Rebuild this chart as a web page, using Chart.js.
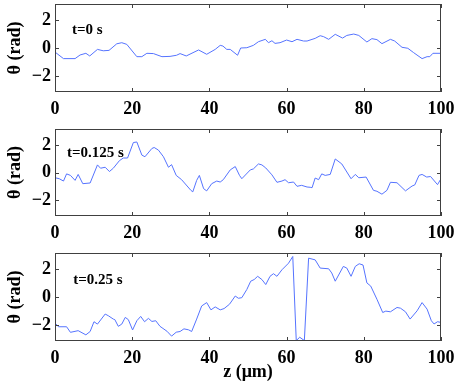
<!DOCTYPE html>
<html>
<head>
<meta charset="utf-8">
<script src="https://cdn.jsdelivr.net/npm/chart.js@4.4.0/dist/chart.umd.min.js"></script>
<style>
body { margin: 0; background: #fff; }
#wrap { position: relative; width: 458px; height: 387px; }
.panel { position: absolute; left: 0; width: 458px; }
</style>
</head>
<body>
<div id="wrap">
  <div class="panel" style="top:0;height:120px"><canvas id="c0"></canvas></div>
  <div class="panel" style="top:125px;height:119px"><canvas id="c1"></canvas></div>
  <div class="panel" style="top:249px;height:138px"><canvas id="c2"></canvas></div>
</div>
<script>
// tick labels
const xTicks = [0, 20, 40, 60, 80, 100];
const yTicks = [-2, 0, 2];

// t = 0 s
const z0 = [0,2.2,5.2,6.5,8,9,11,12.5,14,16,17.3,18.6,21.2,22.5,23.8,25.5,27.7,29.8,31.5,32.4,
    34,37.2,39.3,41.5,42.8,43.5,44.5,45.4,47.3,48.1,49.7,51.4,52.7,54.5,55.3,56.2,57,58.3,60,61.4,
    62.7,64.4,65.3,67.4,68.7,69.6,70.9,72.6,74.5,75.6,77.4,78.7,80.8,82.1,83.4,84.7,86.9,88,89.9,91.4,
    92.9,95.1,96.4,97.1,97.9,100];
const theta0 = [-0.29,-0.76,-0.76,-0.5,-0.38,-0.57,-0.1,-0.2,-0.17,0.3,0.38,0.26,-0.62,-0.62,-0.38,-0.4,-0.62,-0.6,-0.52,-0.4,
    -0.57,-0.14,-0.45,-0.1,0.19,0.14,-0.1,-0.1,-0.52,0,0.02,0.19,0.45,0.62,0.38,0.52,0.33,0.38,0.57,0.45,
    0.62,0.5,0.5,0.69,0.88,0.81,0.62,0.98,0.71,0.9,1.0,0.9,0.43,0.67,0.6,0.31,0.62,0.5,0.05,-0.02,
    -0.33,-0.76,-0.62,-0.62,-0.38,-0.38];

// t = 0.125 s
const z1 = [0,1.1,2.2,3,4,5.2,6,7.2,9.1,11,11.8,13,14.1,15.1,16.7,17.7,18.8,20.3,21.2,22.5,
    23.3,25.1,25.7,26.8,28.1,29.4,30.2,31.4,32.8,35.2,35.7,36.7,37.4,38.5,39.3,40.6,41.9,42.8,43.6,45.4,
    46.7,47.8,48.4,50.6,51.4,52.7,53.6,54.6,56.2,57.5,58.8,59.6,60.5,61.8,62.7,63.9,65.3,66.1,66.6,67.4,
    68.3,69.1,70,71.3,72.6,74.3,76.7,77.8,78.7,80.6,82.5,83.4,84.7,86,86.9,88.6,90.8,92.5,93.2,94.3,
    95.1,96.3,97.3,99.1,100];
const theta1 = [-0.38,-0.45,-0.62,-0.1,-0.21,-0.57,-0.14,-0.81,-0.76,0.55,0.31,0.38,0.07,0.31,0.86,1.05,1.05,2.17,2.21,1.26,
    1.14,1.74,1.81,1.62,1.14,0.38,0.57,-0.21,-0.52,-1.29,-1.4,-0.57,-0.21,-1.17,-1.33,-0.81,-0.62,-0.69,-0.52,0.19,
    0.43,-0.21,-0.45,0.19,0.26,0.62,0.55,0.33,-0.17,-0.71,-0.62,-0.52,-0.74,-0.69,-1.0,-0.93,-1.05,-1.07,-1.1,-0.4,
    -0.52,-0.1,-0.21,-0.14,0.98,0.62,-0.45,-0.14,-0.38,-0.33,-1.29,-1.36,-1.57,-1.29,-0.71,-0.74,-1.33,-0.98,-0.9,-0.21,
    -0.14,-0.33,-0.29,-0.88,-0.45];

// t = 0.25 s
const z2 = [0,0.9,3,4,6,8,9.1,10.1,11,13,13.8,15.1,15.5,16.4,17.3,18.2,19,20.1,21.2,22.2,
    23.2,24.2,25.1,26.1,27.2,29,30.2,31.4,32.4,33.4,34.6,35.4,36.7,38,39.3,40.4,41.5,42.8,43.8,45.2,
    46.7,47.5,48.4,49.7,50.7,51.6,52.5,53.6,54.6,55.7,56.6,57.5,58.8,60.5,61.6,62.5,63.4,64.6,65.7,67.4,
    68.7,70.9,71.7,72.6,74.7,75.6,76.7,77.8,78.8,79.8,80.8,81.8,83.4,84.9,85.7,86.9,88.6,89.5,90.8,92,
    93.8,95.1,96.4,97.5,98.2,99.1,100];
const theta2 = [-1.87,-2.13,-2.13,-2.53,-2.41,-2.71,-2.47,-1.77,-1.94,-1.22,-1.34,-1.58,-1.62,-2.1,-1.94,-1.46,-1.62,-2.36,-1.7,-1.39,
    -1.77,-1.53,-1.75,-1.7,-2.1,-2.45,-2.8,-2.52,-2.47,-2.28,-2.35,-2.47,-1.58,-0.64,-0.4,-0.92,-0.71,-0.92,-0.83,-0.52,
    0.07,-0.09,-0.05,0.54,1.13,1.25,1.48,1.25,0.89,1.48,1.67,1.48,1.95,2.42,2.9,-3.12,-2.88,-3.12,2.78,2.66,
    2.07,2.02,1.72,1.13,2.19,2.07,1.48,2.19,2.38,2.29,1.01,0.78,-0.16,-1.11,-1.01,-1.06,-0.75,-0.8,-1.06,-1.58,
    -0.99,-0.4,-0.87,-1.7,-1.93,-1.77,-1.82];

const serif = '"Liberation Serif", "Times New Roman", serif';
const lineColor = 'rgb(85, 115, 255)';

function minusLabel(v) {
    return v < 0 ? '\u2212' + Math.abs(v) : String(v);
}

// box + inward ticks on all four sides, and the time label
const frame = {
    id: 'frame',
    afterDraw(chart) {
        const ctx = chart.ctx;
        const a = chart.chartArea;
        const x = chart.scales.x;
        const y = chart.scales.y;
        ctx.save();
        ctx.strokeStyle = '#404040';
        ctx.lineWidth = 1;
        ctx.strokeRect(Math.round(a.left) + 0.5, Math.round(a.top) + 0.5,
            Math.round(a.width) - 1, Math.round(a.height) - 1);
        ctx.beginPath();
        x.ticks.forEach(t => {
            let px = Math.round(x.getPixelForValue(t.value)) + 0.5;
            ctx.moveTo(px, a.bottom); ctx.lineTo(px, a.bottom - 4);
            ctx.moveTo(px, a.top); ctx.lineTo(px, a.top + 4);
        });
        y.ticks.forEach(t => {
            let py = Math.round(y.getPixelForValue(t.value)) + 0.5;
            ctx.moveTo(a.left, py); ctx.lineTo(a.left + 4, py);
            ctx.moveTo(a.right, py); ctx.lineTo(a.right - 4, py);
        });
        ctx.stroke();
        let opts = chart.options.plugins.frame;
        ctx.font = 'bold 15px ' + serif;
        ctx.fillStyle = '#000';
        ctx.textBaseline = 'middle';
        ctx.fillText(opts.label, x.getPixelForValue(opts.at[0]), y.getPixelForValue(opts.at[1]));
        ctx.restore();
    }
};

function makePanel(id, zs, thetas, label, at, xAxisHeight, showTitle) {
    let ctx = document.getElementById(id).getContext('2d');
    return new Chart(ctx, {
        type: 'line',
        data: {
            datasets: [{
                data: zs.map((z, i) => ({x: z, y: thetas[i]})),
                borderColor: lineColor,
                borderWidth: 1,
                pointRadius: 0,
                tension: 0,
                fill: false
            }]
        },
        options: {
            responsive: true,
            maintainAspectRatio: false,
            animation: false,
            layout: { padding: { top: 4, right: 17, left: 0, bottom: 0 } },
            plugins: {
                legend: { display: false },
                tooltip: { enabled: false },
                frame: { label: label, at: at }
            },
            scales: {
                x: {
                    type: 'linear',
                    min: 0,
                    max: 100,
                    grid: { display: false, drawTicks: false },
                    border: { display: false },
                    afterBuildTicks: s => { s.ticks = xTicks.map(v => ({value: v})); },
                    afterFit: s => {
                        s.height = xAxisHeight;
                        s.paddingLeft = 0;
                        s.paddingRight = 0;
                    },
                    ticks: {
                        color: '#000',
                        padding: 7,
                        maxRotation: 0,
                        font: { family: serif, size: 18, weight: 'bold' }
                    },
                    title: {
                        display: showTitle,
                        text: 'z (\u03bcm)',
                        color: '#000',
                        padding: { top: 0, bottom: 4 },
                        font: { family: serif, size: 18, weight: 'bold' }
                    }
                },
                y: {
                    min: -3.15,
                    max: 3.15,
                    grid: { display: false, drawTicks: false },
                    border: { display: false },
                    afterBuildTicks: s => { s.ticks = yTicks.map(v => ({value: v})); },
                    afterFit: s => {
                        s.width = 55;
                        s.paddingTop = 0;
                        s.paddingBottom = 0;
                    },
                    ticks: {
                        color: '#000',
                        padding: 4,
                        callback: minusLabel,
                        font: { family: serif, size: 18, weight: 'bold' }
                    },
                    title: {
                        display: true,
                        text: '\u03b8 (rad)',
                        color: '#000',
                        padding: { top: 5, bottom: 0 },
                        font: { family: serif, size: 18, weight: 'bold' }
                    }
                }
            }
        },
        plugins: [frame]
    });
}

makePanel('c0', z0, theta0, 't=0 s', [4.4, 1.27], 28, false);
makePanel('c1', z1, theta1, 't=0.125 s', [3.1, 1.43], 28, false);
makePanel('c2', z2, theta2, 't=0.25 s', [4.7, 1.24], 46, true);
</script>
</body>
</html>
